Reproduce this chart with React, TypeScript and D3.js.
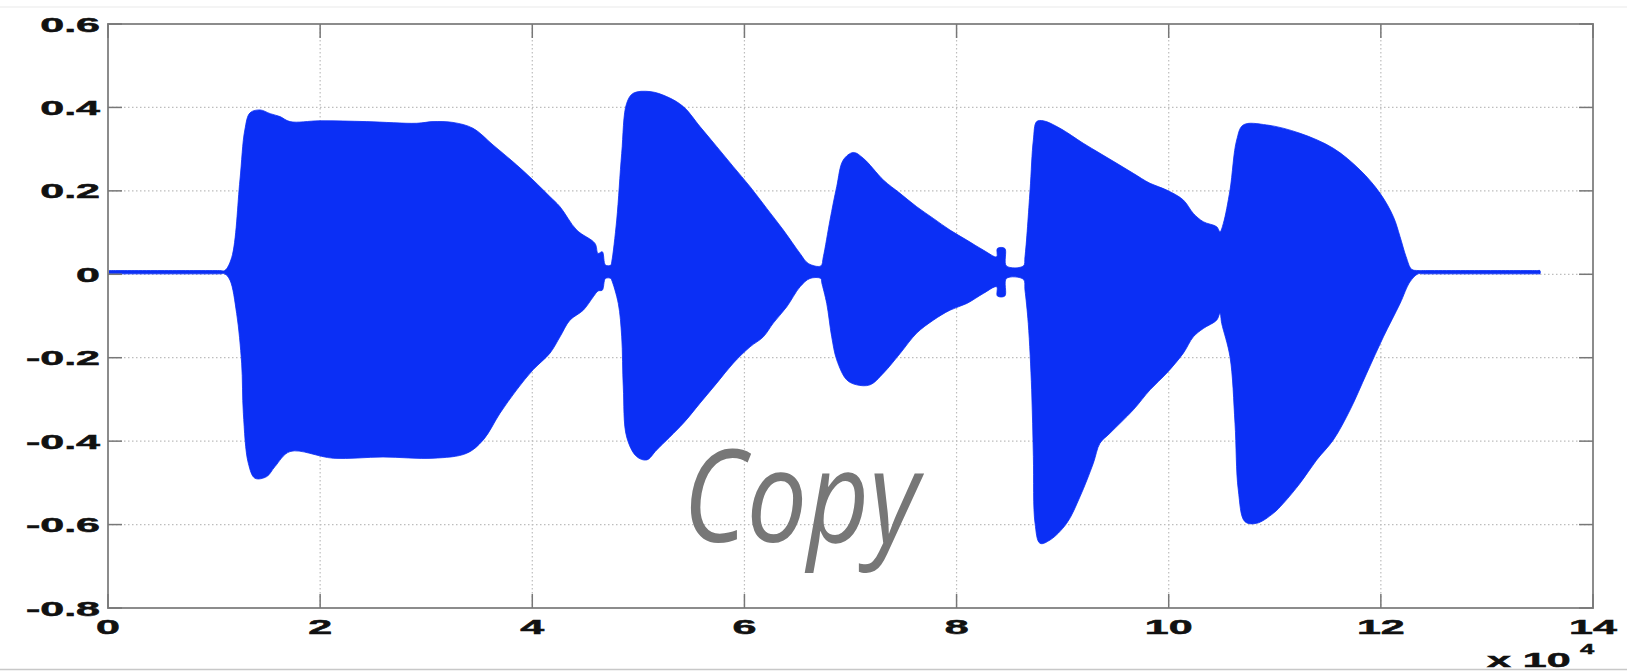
import React from 'react';
import * as d3 from 'd3';

const xTicks = [0, 2, 4, 6, 8, 10, 12, 14];
const yTicks = [0.6, 0.4, 0.2, 0, -0.2, -0.4, -0.6, -0.8];
const xTickLabels = ['0', '2', '4', '6', '8', '10', '12', '14'];
const yTickLabels = ['0.6', '0.4', '0.2', '0', '-0.2', '-0.4', '-0.6', '-0.8'];

// Upper envelope of the waveform (x in units of 10^4 samples)
const upperEnvelope: [number, number][] = [
  [0, 0.009], [0.02, 0.009], [0.5, 0.009], [1.05, 0.009], [1.1, 0.009], [1.166, 0.04], [1.244, 0.226], [1.29, 0.346], [1.339, 0.387],
  [1.433, 0.394], [1.53, 0.385], [1.622, 0.378], [1.716, 0.366], [1.999, 0.368], [2.439, 0.366],
  [2.91, 0.362], [3.064, 0.366], [3.253, 0.364], [3.441, 0.35], [3.63, 0.31], [3.853, 0.262],
  [4.007, 0.226], [4.167, 0.186], [4.261, 0.162], [4.419, 0.106], [4.591, 0.074], [4.62, 0.05],
  [4.66, 0.054], [4.69, 0.022], [4.74, 0.022],
  [4.749, 0.03], [4.796, 0.13], [4.843, 0.29], [4.89, 0.41], [4.952, 0.434], [5.11, 0.438],
  [5.267, 0.426], [5.424, 0.402], [5.581, 0.354], [5.739, 0.306], [5.895, 0.258], [6.053, 0.21],
  [6.21, 0.158], [6.367, 0.106], [6.524, 0.05], [6.602, 0.026], [6.72, 0.02],
  [6.744, 0.042], [6.807, 0.13], [6.87, 0.21], [6.932, 0.274], [7.027, 0.292], [7.121, 0.278],
  [7.31, 0.226], [7.467, 0.194], [7.624, 0.162], [7.781, 0.134], [7.938, 0.106], [8.096, 0.082],
  [8.252, 0.058], [8.378, 0.042], [8.385, 0.062], [8.455, 0.062], [8.47, 0.02], [8.63, 0.02],
  [8.645, 0.042], [8.693, 0.202], [8.724, 0.322], [8.755, 0.366], [8.818, 0.368], [8.975, 0.35],
  [9.195, 0.314], [9.352, 0.29], [9.51, 0.266], [9.666, 0.242], [9.824, 0.218], [9.981, 0.202],
  [10.138, 0.178], [10.232, 0.146], [10.326, 0.126], [10.452, 0.114], [10.483, 0.102],
  [10.515, 0.122], [10.578, 0.202], [10.641, 0.322], [10.703, 0.358], [10.924, 0.358],
  [11.238, 0.338], [11.552, 0.302], [11.804, 0.25], [11.993, 0.194], [12.118, 0.138],
  [12.181, 0.09], [12.238, 0.042], [12.29, 0.012], [12.35, 0.009], [12.4, 0.009], [13.0, 0.009],
  [13.48, 0.009], [13.5, 0.009],
];

// Lower envelope of the waveform
const lowerEnvelope: [number, number][] = [
  [0, 0.001], [0.02, 0.001], [0.5, 0.001], [1.05, 0.001], [1.1, 0.001], [1.15, -0.014], [1.213, -0.094], [1.26, -0.213], [1.276, -0.333],
  [1.323, -0.453], [1.386, -0.489], [1.496, -0.485], [1.574, -0.461], [1.716, -0.425],
  [2.124, -0.441], [2.593, -0.438], [3.064, -0.441], [3.382, -0.429], [3.538, -0.397],
  [3.696, -0.333], [3.853, -0.277], [4.007, -0.229], [4.167, -0.189], [4.261, -0.15],
  [4.355, -0.11], [4.481, -0.086], [4.575, -0.054], [4.62, -0.04], [4.66, -0.038],
  [4.69, -0.01], [4.74, -0.01],
  [4.749, -0.014], [4.811, -0.07], [4.843, -0.15], [4.858, -0.27], [4.89, -0.39], [4.984, -0.437],
  [5.079, -0.445], [5.173, -0.421], [5.424, -0.357], [5.581, -0.309], [5.739, -0.261],
  [5.895, -0.213], [6.053, -0.174], [6.178, -0.15], [6.272, -0.117], [6.399, -0.078],
  [6.524, -0.03], [6.618, -0.01], [6.72, -0.01],
  [6.729, -0.02], [6.776, -0.07], [6.823, -0.15], [6.87, -0.205], [6.964, -0.253], [7.058, -0.265],
  [7.184, -0.265], [7.31, -0.237], [7.467, -0.19], [7.624, -0.141], [7.781, -0.11], [7.938, -0.086],
  [8.096, -0.07], [8.252, -0.046], [8.378, -0.03], [8.385, -0.052], [8.455, -0.052], [8.47, -0.01],
  [8.63, -0.012],
  [8.645, -0.038], [8.676, -0.118], [8.708, -0.277], [8.724, -0.437], [8.74, -0.597], [8.787, -0.645],
  [8.881, -0.637], [9.038, -0.597], [9.164, -0.533], [9.289, -0.453], [9.352, -0.405], [9.446, -0.381],
  [9.666, -0.325], [9.824, -0.277], [9.981, -0.237], [10.138, -0.189], [10.232, -0.15],
  [10.326, -0.13], [10.452, -0.11], [10.483, -0.094],
  [10.5, -0.118], [10.578, -0.198], [10.625, -0.357], [10.656, -0.517], [10.719, -0.593],
  [10.829, -0.597], [10.986, -0.573], [11.081, -0.549], [11.238, -0.501], [11.395, -0.445],
  [11.552, -0.397], [11.71, -0.325], [11.867, -0.237], [12.024, -0.15], [12.181, -0.07],
  [12.275, -0.018], [12.35, 0.001], [12.4, 0.001], [13.0, 0.001], [13.48, 0.001], [13.5, 0.001],
];

const W = 1627;
const H = 671;
const M = { left: 108, right: 1593, top: 24, bottom: 608 };
const BLUE = '#0b2ff5';
const FONT = '"Liberation Sans", Arial, Helvetica, sans-serif';
const SX = 2.15;

export default function App() {
  const x = d3.scaleLinear().domain([0, 14]).range([M.left, M.right]);
  const y = d3.scaleLinear().domain([-0.8, 0.6]).range([M.bottom, M.top]);
  const line = d3
    .line<[number, number]>()
    .x((d) => x(d[0]))
    .y((d) => y(d[1]))
    .curve(d3.curveCatmullRom.alpha(0.5));
  const wave = line([...upperEnvelope, ...lowerEnvelope.slice().reverse()]) + 'Z';

  const labelStyle: React.CSSProperties = {
    fontFamily: FONT,
    fontWeight: 700,
    fontSize: 20,
    fill: '#111',
    stroke: '#111',
    strokeWidth: 0.5,
  };

  return (
    <svg
      width={W}
      height={H}
      viewBox={`0 0 ${W} ${H}`}
      style={{ position: 'absolute', left: 0, top: 0, background: '#fff' }}
    >
      <rect x={0} y={0} width={W} height={H} fill="#fff" />
      <line x1={0} x2={W} y1={7} y2={7} stroke="#f0f0f0" strokeWidth={1.5} />
      {/* grid */}
      <g stroke="#bdbdbd" strokeWidth={1.2} strokeDasharray="1.5,2.5">
        {xTicks.slice(1, -1).map((t) => (
          <line key={'gx' + t} x1={x(t)} x2={x(t)} y1={M.top} y2={M.bottom} />
        ))}
        {yTicks.slice(1, -1).map((t) => (
          <line key={'gy' + t} x1={M.left} x2={M.right} y1={y(t)} y2={y(t)} />
        ))}
      </g>
      {/* waveform */}
      <path d={wave} fill={BLUE} stroke={BLUE} strokeWidth={0.8} strokeLinejoin="round" />
      {/* frame */}
      <rect
        x={M.left}
        y={M.top}
        width={M.right - M.left}
        height={M.bottom - M.top}
        fill="none"
        stroke="#8c8c8c"
        strokeWidth={2}
      />
      {/* ticks */}
      <g stroke="#777" strokeWidth={1.5}>
        {yTicks.map((t) => (
          <g key={'ty' + t}>
            <line x1={M.left} x2={M.left + 14} y1={y(t)} y2={y(t)} />
            <line x1={M.right - 14} x2={M.right} y1={y(t)} y2={y(t)} />
          </g>
        ))}
        {xTicks.map((t) => (
          <g key={'tx' + t}>
            <line x1={x(t)} x2={x(t)} y1={M.bottom} y2={M.bottom - 14} />
            <line x1={x(t)} x2={x(t)} y1={M.top} y2={M.top + 14} />
          </g>
        ))}
      </g>
      {/* y labels */}
      {yTicks.map((t, i) => (
        <text
          key={'ly' + t}
          transform={`translate(${M.left - 8},${y(t) + 7.5}) scale(${SX},1)`}
          textAnchor="end"
          style={labelStyle}
        >
          {yTickLabels[i]}
        </text>
      ))}
      {/* x labels */}
      {xTicks.map((t, i) => (
        <text
          key={'lx' + t}
          transform={`translate(${x(t)},${M.bottom + 26}) scale(${SX},1)`}
          textAnchor="middle"
          style={labelStyle}
        >
          {xTickLabels[i]}
        </text>
      ))}
      {/* exponent */}
      <text transform={`translate(1487,667) scale(${SX},1)`} style={labelStyle}>
        x 10
      </text>
      <text transform={`translate(1580,654) scale(1.7,1)`} style={{ ...labelStyle, fontSize: 15 }}>
        4
      </text>
      <line x1={0} x2={W} y1={669.5} y2={669.5} stroke="#c8c8c8" strokeWidth={1.5} />
      {/* watermark */}
      <text
        x={683}
        y={542}
        textLength={236}
        lengthAdjust="spacingAndGlyphs"
        style={{
          fontFamily: '"Open Sans", "Noto Sans", sans-serif',
          fontStyle: 'italic',
          fontSize: 129,
          fill: '#777',
        }}
      >
        Copy
      </text>
    </svg>
  );
}
